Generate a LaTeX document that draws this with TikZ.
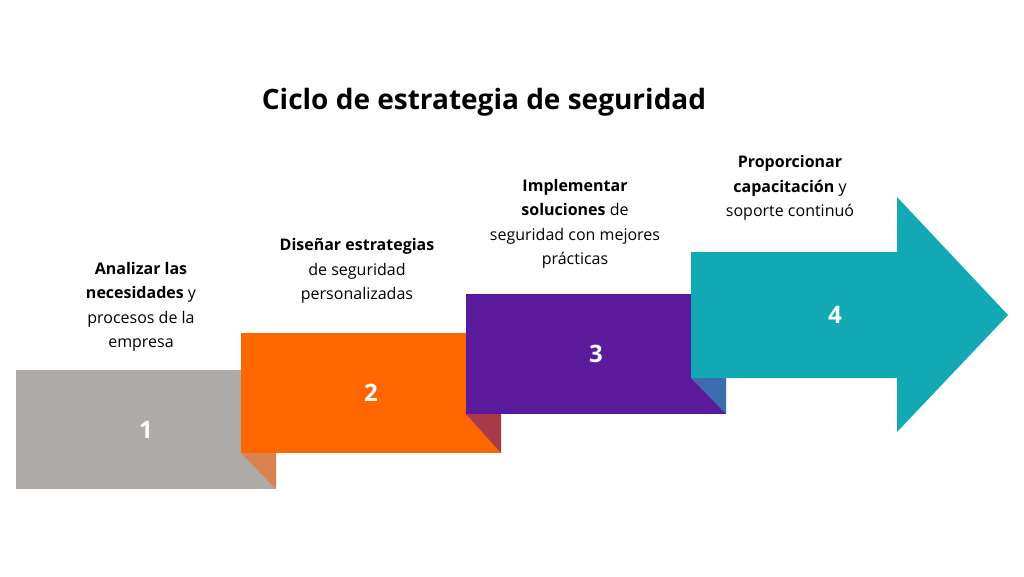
\documentclass[tikz,border=0pt]{standalone}
\usepackage{fontspec}
\setmainfont{Open Sans}
\usetikzlibrary{positioning}
\definecolor{stepgrey}{HTML}{AEAAA8}
\definecolor{steporange}{HTML}{FF6600}
\definecolor{steppurple}{HTML}{5A1A9B}
\definecolor{stepteal}{HTML}{13A9B4}
\definecolor{foldorange}{HTML}{DA8350}
\definecolor{foldred}{HTML}{A83A4C}
\definecolor{foldblue}{HTML}{3D6BAF}
\tikzset{
  numlabel/.style={text=white,font=\fontsize{18}{20}\selectfont\bfseries},
  steptext/.style={align=center,font=\fontsize{12}{18.4}\selectfont,inner sep=0pt}
}
\begin{document}
\begin{tikzpicture}[x=0.75pt,y=0.75pt,yscale=-1,xscale=1]
\useasboundingbox (0,0) rectangle (1024,576);

%Blocks
\fill [stepgrey] (16,370) rectangle (276,489);
\fill [foldorange] (241,453) -- (276,453) -- (276,489) -- cycle;
\fill [steporange] (241,333) rectangle (501,453);
\fill [foldred] (466,414) -- (501,414) -- (501,453) -- cycle;
\fill [steppurple] (466,294) rectangle (726,414);
\fill [foldblue] (691,378) -- (726,378) -- (726,414) -- cycle;
\fill [stepteal] (691,252) -- (897,252) -- (897,197) -- (1008,315) -- (897,432) -- (897,378) -- (691,378) -- cycle;

% Numbers
\node [numlabel] (n1) at (146,430) {1};
\node [numlabel] (n2) at (371,393) {2};
\node [numlabel] (n3) at (596,354) {3};
\node [numlabel] (n4) at (835,315) {4};

% Title
\node [font=\fontsize{21}{24}\selectfont\bfseries] (title) at (484,102) {Ciclo de estrategia de seguridad};

% Text Nodes
\node [steptext] (t1) at (141,307) {\textbf{Analizar las}\\\textbf{necesidades} y\\procesos de la\\empresa};
\node [steptext] (t2) at (357,271) {\textbf{Diseñar estrategias}\\de seguridad\\personalizadas};
\node [steptext] (t3) at (575,224) {\textbf{Implementar}\\\textbf{soluciones} de\\seguridad con mejores\\prácticas};
\node [steptext] (t4) at (790,188) {\textbf{Proporcionar}\\\textbf{capacitación} y\\soporte continuó};

\end{tikzpicture}
\end{document}
